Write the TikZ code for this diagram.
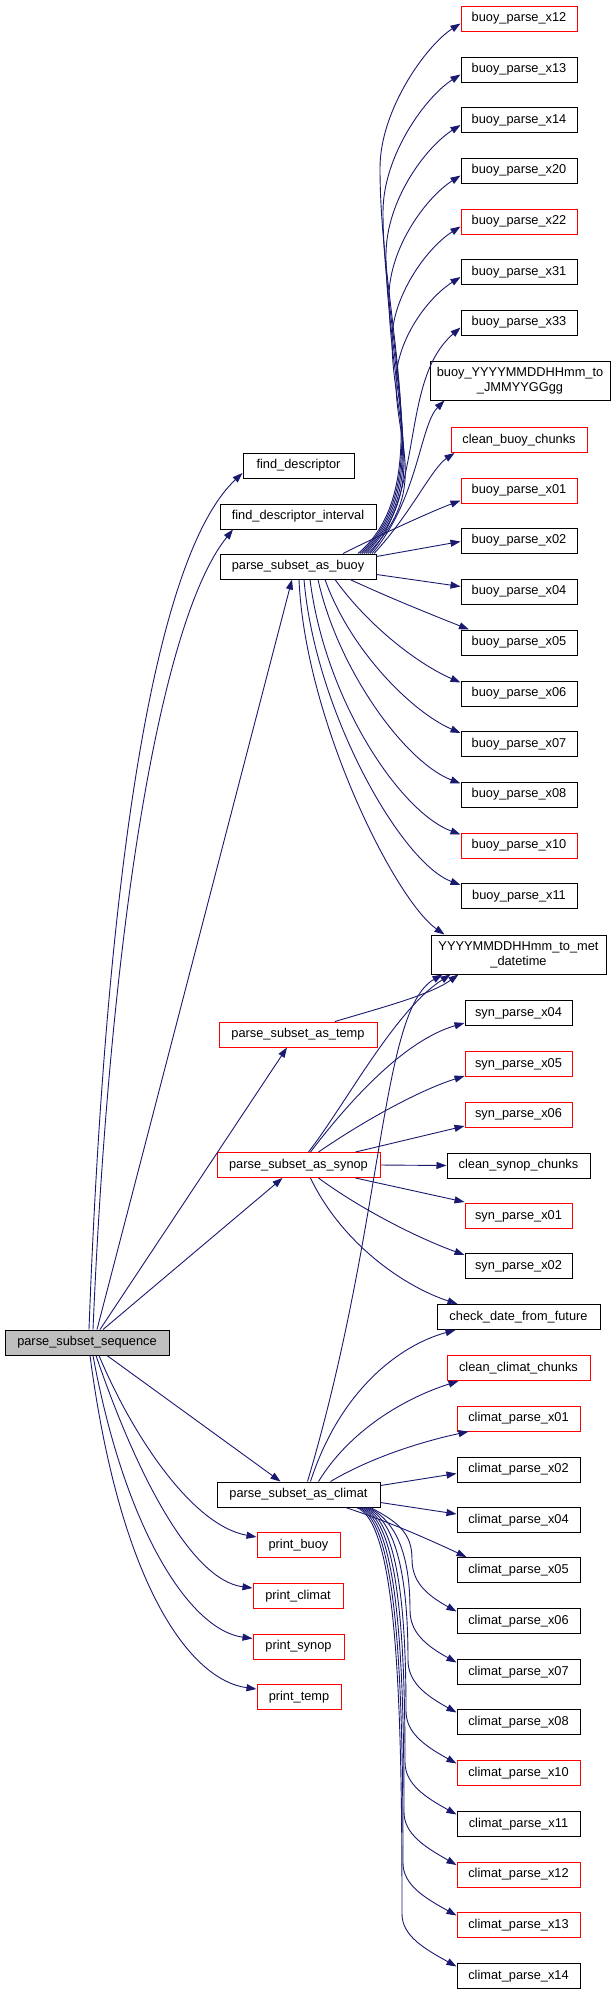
\documentclass[tikz,border=0pt]{standalone}
\usepackage{fontspec}
\setmainfont{Liberation Sans}
\usetikzlibrary{arrows.meta}
\definecolor{edgeblue}{HTML}{191970}
\definecolor{rootgray}{HTML}{BFBFBF}
\begin{document}
\begin{tikzpicture}[x=1pt,y=-1pt,
  fn/.style={draw=black, line width=1pt, inner sep=0pt, minimum height=25pt,
    font=\fontsize{12.8}{15}\selectfont, align=center, fill=white},
  rfn/.style={fn, draw=red},
  gfn/.style={fn, fill=rootgray},
  edg/.style={draw=edgeblue, line width=0.9pt, -{Triangle[length=10pt,width=7pt]}},
]
\useasboundingbox (0,0) rectangle (615,1995);

% root
\node[gfn, minimum width=164pt] (root) at (87,1342.5) {parse\_subset\_sequence};

% middle column
\node[fn, minimum width=111pt] (fd) at (298.5,465.5) {find\_descriptor};
\node[fn, minimum width=156pt] (fdi) at (298,516.5) {find\_descriptor\_interval};
\node[fn, minimum width=156pt] (buoy) at (298,566.5) {parse\_subset\_as\_buoy};
\node[rfn, minimum width=158pt] (temp) at (298,1034.5) {parse\_subset\_as\_temp};
\node[rfn, minimum width=163pt] (synop) at (298.5,1165) {parse\_subset\_as\_synop};
\node[fn, minimum width=163pt] (climat) at (298.5,1494.5) {parse\_subset\_as\_climat};
\node[rfn, minimum width=83pt] (pbuoy) at (298.5,1545) {print\_buoy};
\node[rfn, minimum width=90pt] (pclimat) at (298,1596) {print\_climat};
\node[rfn, minimum width=91pt] (psynop) at (298.5,1646.5) {print\_synop};
\node[rfn, minimum width=84pt] (ptemp) at (299,1697) {print\_temp};

% right column: buoy
\node[rfn, minimum width=116pt] (b12) at (519,18.5) {buoy\_parse\_x12};
\node[fn, minimum width=116pt] (b13) at (519,69.5) {buoy\_parse\_x13};
\node[fn, minimum width=116pt] (b14) at (519,120) {buoy\_parse\_x14};
\node[fn, minimum width=116pt] (b20) at (519,170.5) {buoy\_parse\_x20};
\node[rfn, minimum width=116pt] (b22) at (519,221.5) {buoy\_parse\_x22};
\node[fn, minimum width=116pt] (b31) at (519,272) {buoy\_parse\_x31};
\node[fn, minimum width=116pt] (b33) at (519,322.5) {buoy\_parse\_x33};
\node[fn, minimum width=180pt, minimum height=39pt] (bY) at (520,380.5) {buoy\_YYYYMMDDHHmm\_to\\\_JMMYYGGgg};
\node[rfn, minimum width=136pt] (cbc) at (519,440) {clean\_buoy\_chunks};
\node[rfn, minimum width=116pt] (b01) at (519,490.5) {buoy\_parse\_x01};
\node[fn, minimum width=116pt] (b02) at (519,540.5) {buoy\_parse\_x02};
\node[fn, minimum width=116pt] (b04) at (519,591.5) {buoy\_parse\_x04};
\node[fn, minimum width=116pt] (b05) at (519,642.5) {buoy\_parse\_x05};
\node[fn, minimum width=116pt] (b06) at (519,693.5) {buoy\_parse\_x06};
\node[fn, minimum width=116pt] (b07) at (519,744) {buoy\_parse\_x07};
\node[fn, minimum width=116pt] (b08) at (519,794.5) {buoy\_parse\_x08};
\node[rfn, minimum width=116pt] (b10) at (519,845.5) {buoy\_parse\_x10};
\node[fn, minimum width=116pt] (b11) at (519,896) {buoy\_parse\_x11};
\node[fn, minimum width=175pt, minimum height=39pt] (ym) at (518.5,954.5) {YYYYMMDDHHmm\_to\_met\\\_datetime};

% right column: synop
\node[fn, minimum width=107pt] (s04) at (518.5,1013) {syn\_parse\_x04};
\node[rfn, minimum width=107pt] (s05) at (518.5,1064) {syn\_parse\_x05};
\node[rfn, minimum width=107pt] (s06) at (518.5,1114.5) {syn\_parse\_x06};
\node[fn, minimum width=143pt] (csc) at (518.5,1165.5) {clean\_synop\_chunks};
\node[rfn, minimum width=107pt] (s01) at (518.5,1216) {syn\_parse\_x01};
\node[fn, minimum width=107pt] (s02) at (518.5,1266) {syn\_parse\_x02};
\node[fn, minimum width=163pt] (cdf) at (518.5,1317) {check\_date\_from\_future};

% right column: climat
\node[rfn, minimum width=143pt] (ccc) at (518.5,1368) {clean\_climat\_chunks};
\node[rfn, minimum width=123pt] (c01) at (518.5,1418.5) {climat\_parse\_x01};
\node[fn, minimum width=123pt] (c02) at (518.5,1469.5) {climat\_parse\_x02};
\node[fn, minimum width=123pt] (c04) at (518.5,1520) {climat\_parse\_x04};
\node[fn, minimum width=123pt] (c05) at (518.5,1570) {climat\_parse\_x05};
\node[fn, minimum width=123pt] (c06) at (518.5,1621) {climat\_parse\_x06};
\node[fn, minimum width=123pt] (c07) at (518.5,1672) {climat\_parse\_x07};
\node[fn, minimum width=123pt] (c08) at (518.5,1722) {climat\_parse\_x08};
\node[rfn, minimum width=123pt] (c10) at (518.5,1773) {climat\_parse\_x10};
\node[fn, minimum width=123pt] (c11) at (518.5,1824) {climat\_parse\_x11};
\node[rfn, minimum width=123pt] (c12) at (518.5,1874.5) {climat\_parse\_x12};
\node[rfn, minimum width=123pt] (c13) at (518.5,1925) {climat\_parse\_x13};
\node[fn, minimum width=123pt] (c14) at (518.5,1976) {climat\_parse\_x14};

% ---- edges from root
\draw[edg] ([xshift=2pt]root.north) .. controls (105,900) and (150,560) .. ([yshift=-7.5pt]fd.west);
\draw[edg] ([xshift=6pt]root.north) .. controls (110,930) and (160,620) .. ([xshift=-65pt]fdi.south);
\draw[edg] ([xshift=10pt]root.north) -- ([xshift=-6pt]buoy.south);
\draw[edg] ([xshift=13pt]root.north) -- ([xshift=-11pt]temp.south);
\draw[edg] ([xshift=16pt]root.north) -- ([xshift=-16pt]synop.south);
\draw[edg] ([xshift=20pt]root.south) -- ([xshift=-18pt]climat.north);
\draw[edg] ([xshift=12pt]root.south) .. controls (130,1430) and (190,1525) .. ([yshift=8pt]pbuoy.west);
\draw[edg] ([xshift=9pt]root.south) .. controls (135,1470) and (190,1580) .. ([yshift=8pt]pclimat.west);
\draw[edg] ([xshift=6pt]root.south) .. controls (125,1530) and (190,1630) .. ([yshift=8pt]psynop.west);
\draw[edg] ([xshift=3pt]root.south) .. controls (120,1585) and (190,1680) .. ([yshift=8pt]ptemp.west);

% ---- edges from parse_subset_as_buoy
\draw[edg] ([xshift=60pt]buoy.north) .. controls (440,485) and (380,322) .. (380,168) .. controls (380,110) and (426,45.5) .. ([yshift=-5pt]b12.west);
\draw[edg] ([xshift=62pt]buoy.north) .. controls (438,485) and (383,345) .. (383,212) .. controls (383,155) and (426,96.5) .. ([yshift=-5pt]b13.west);
\draw[edg] ([xshift=64pt]buoy.north) .. controls (436,485) and (386,370) .. (386,255) .. controls (386,200) and (426,147) .. ([yshift=-5pt]b14.west);
\draw[edg] ([xshift=66pt]buoy.north) .. controls (434,485) and (389,395) .. (389,297) .. controls (389,248) and (426,197.5) .. ([yshift=-5pt]b20.west);
\draw[edg] ([xshift=68pt]buoy.north) .. controls (432,485) and (392,420) .. (392,340) .. controls (392,297) and (426,248.5) .. ([yshift=-5pt]b22.west);
\draw[edg] ([xshift=70pt]buoy.north) .. controls (430,490) and (396,445) .. (396,382) .. controls (396,342) and (426,299) .. ([yshift=-5pt]b31.west);
\draw[edg] ([xshift=72pt]buoy.north) .. controls (425,490) and (400,380) .. ([yshift=-5pt]b33.west);
\draw[edg] ([xshift=74pt]buoy.north) .. controls (418,500) and (420,425) .. ([xshift=-75.5pt]bY.south);
\draw[edg] ([xshift=76pt]buoy.north) .. controls (410,515) and (432,468) .. ([xshift=4pt]cbc.south west);
\draw[edg] ([xshift=45pt]buoy.north) .. controls (380,535) and (430,512) .. ([yshift=-10pt]b01.west);
\draw[edg] ([yshift=10pt]buoy.east) -- ([yshift=-1pt]b02.west);
\draw[edg] ([yshift=-8pt]buoy.east) -- ([yshift=5pt]b04.west);
\draw[edg] ([xshift=52pt]buoy.south) .. controls (390,598) and (430,614) .. ([xshift=-50pt]b05.north);
\draw[edg] ([xshift=37pt]buoy.south) .. controls (370,628) and (420,665) .. ([yshift=-2pt]b06.north west);
\draw[edg] ([xshift=27pt]buoy.south) .. controls (350,650) and (412,712) .. ([yshift=-2pt]b07.north west);
\draw[edg] ([xshift=20pt]buoy.south) .. controls (338,670) and (405,762) .. ([yshift=-2pt]b08.north west);
\draw[edg] ([xshift=12pt]buoy.south) .. controls (325,700) and (400,812) .. ([yshift=-2pt]b10.north west);
\draw[edg] ([xshift=6pt]buoy.south) .. controls (315,710) and (400,862) .. ([yshift=-2pt]b11.north west);
\draw[edg] ([xshift=1pt]buoy.south) .. controls (305,720) and (395,900) .. ([xshift=-74pt]ym.north);

% ---- edges to YYYYMMDDHHmm_to_met_datetime from below
\draw[edg] ([xshift=37pt]temp.north) .. controls (380,1008) and (430,995) .. ([xshift=-60pt]ym.south);
\draw[edg] ([xshift=10pt]synop.north) .. controls (345,1105) and (395,1010) .. ([xshift=-68pt]ym.south);
\draw[edg] ([xshift=9pt]climat.north) .. controls (385,1220) and (380,1010) .. ([xshift=-76pt]ym.south);

% ---- edges from parse_subset_as_synop
\draw[edg] ([xshift=12pt]synop.north) .. controls (350,1100) and (405,1040) .. ([yshift=-10pt]s04.west);
\draw[edg] ([xshift=20pt]synop.north) .. controls (365,1120) and (420,1090) .. ([yshift=-12pt]s05.west);
\draw[edg] ([xshift=57pt]synop.north) -- ([yshift=-11.5pt]s06.west);
\draw[edg] (synop.east) -- (csc.west);
\draw[edg] ([xshift=57pt]synop.south) -- ([yshift=14pt]s01.west);
\draw[edg] ([xshift=20pt]synop.south) .. controls (355,1205) and (410,1235) .. ([yshift=11pt]s02.west);
\draw[edg] ([xshift=12pt]synop.south) .. controls (340,1240) and (400,1285) .. ([xshift=-61pt]cdf.north);

% ---- edges from parse_subset_as_climat
\draw[edg] ([xshift=12pt]climat.north) .. controls (340,1390) and (400,1345) .. ([xshift=-63pt]cdf.south);
\draw[edg] ([xshift=20pt]climat.north) .. controls (350,1430) and (405,1398) .. ([xshift=-60pt]ccc.south);
\draw[edg] ([xshift=32pt]climat.north) .. controls (370,1458) and (420,1442) .. ([xshift=-50pt]c01.south);
\draw[edg] ([yshift=9pt]climat.east) -- ([yshift=-4pt]c02.west);
\draw[edg] ([yshift=-8pt]climat.east) -- ([yshift=6pt]c04.west);
\draw[edg] ([xshift=47pt]climat.south) .. controls (390,1522) and (430,1540) .. ([xshift=-52pt]c05.north);
\draw[edg] ([xshift=72pt]climat.south) .. controls (398,1522) and (412,1533) .. (412,1559) .. controls (412,1581) and (425,1594) .. ([yshift=-3.5pt]c06.north west);
\draw[edg] ([xshift=70pt]climat.south) .. controls (398,1522) and (410,1558) .. (410,1610) .. controls (410,1632) and (425,1645) .. ([yshift=-3.5pt]c07.north west);
\draw[edg] ([xshift=68pt]climat.south) .. controls (398,1522) and (408,1583) .. (408,1660) .. controls (408,1682) and (425,1695) .. ([yshift=-3.5pt]c08.north west);
\draw[edg] ([xshift=66pt]climat.south) .. controls (398,1522) and (406,1609) .. (406,1711) .. controls (406,1733) and (425,1746) .. ([yshift=-3.5pt]c10.north west);
\draw[edg] ([xshift=64pt]climat.south) .. controls (398,1522) and (405,1634) .. (405,1762) .. controls (405,1784) and (425,1797) .. ([yshift=-3.5pt]c11.north west);
\draw[edg] ([xshift=62pt]climat.south) .. controls (398,1522) and (404,1660) .. (404,1812) .. controls (404,1834) and (425,1847) .. ([yshift=-3.5pt]c12.north west);
\draw[edg] ([xshift=60pt]climat.south) .. controls (398,1522) and (403,1685) .. (403,1863) .. controls (403,1885) and (425,1898) .. ([yshift=-3.5pt]c13.north west);
\draw[edg] ([xshift=58pt]climat.south) .. controls (398,1522) and (402,1710) .. (402,1914) .. controls (402,1936) and (425,1949) .. ([yshift=-3.5pt]c14.north west);
\end{tikzpicture}
\end{document}
